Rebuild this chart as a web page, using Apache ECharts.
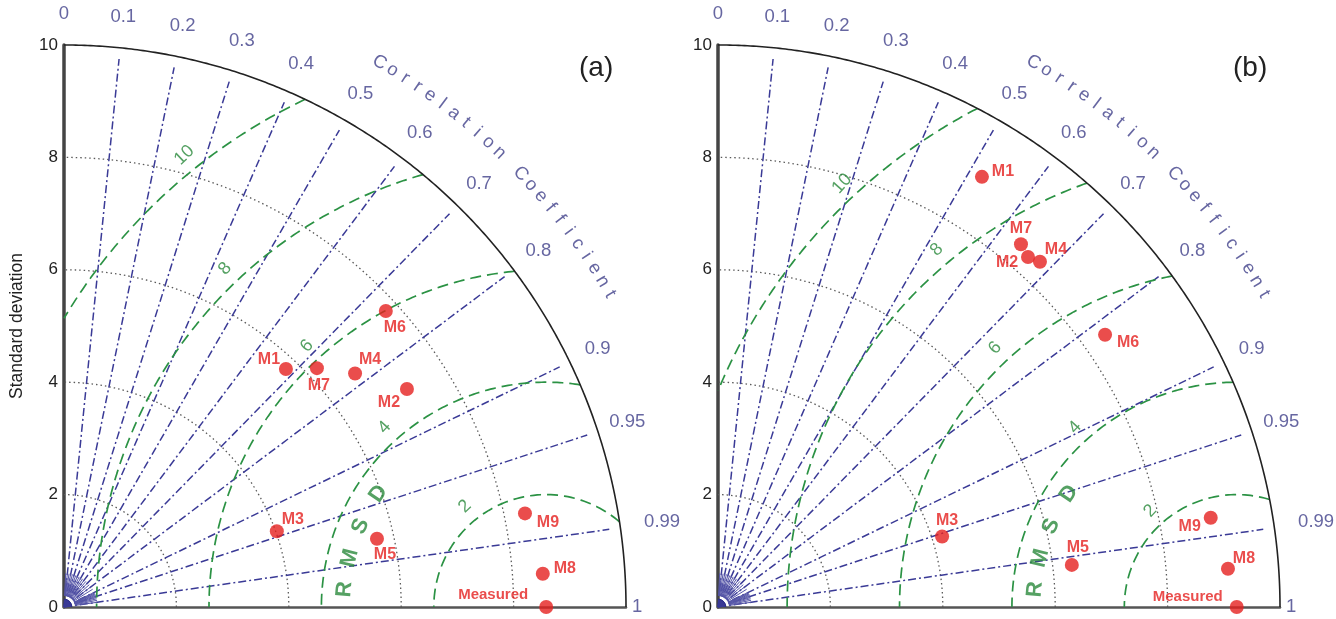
<!DOCTYPE html>
<html>
<head>
<meta charset="utf-8">
<script src="https://cdn.jsdelivr.net/npm/echarts@6/dist/echarts.min.js"></script>
<style>
html,body{margin:0;padding:0;background:#fff;}
#chart{width:1336px;height:619px;}
</style>
</head>
<body>
<div id="chart"></div>
<script>
// ---------------- data ----------------
const modelNames = ['M1','M2','M3','M4','M5','M6','M7','M8','M9','Measured'];
// panel (a)
const stdA  = [5.79, 7.23, 4.02, 6.64, 5.70, 7.78, 6.19, 8.54, 8.37, 8.58];
const corrA = [0.682, 0.844, 0.942, 0.780, 0.977, 0.736, 0.727, 0.9976, 0.980, 1.0];
// panel (b)
const stdB  = [8.98, 8.32, 4.18, 8.40, 6.34, 8.42, 8.41, 9.10, 8.91, 9.23];
const corrB = [0.523, 0.663, 0.954, 0.682, 0.993, 0.818, 0.641, 0.9972, 0.984, 1.0];

const stdTicks = [0, 2, 4, 6, 8, 10];
const stdArcLevels = [2, 4, 6, 8];
const rmsdLevels = [2, 4, 6, 8, 10];
const corrLineValues = [0.1,0.2,0.3,0.4,0.5,0.6,0.7,0.8,0.9,0.95,0.99];
const corrTickValues = [0,0.1,0.2,0.3,0.4,0.5,0.6,0.7,0.8,0.9,0.95,0.99,1];
const corrTickLabels = ['0','0.1','0.2','0.3','0.4','0.5','0.6','0.7','0.8','0.9','0.95','0.99','1'];
const corrTitle = 'Correlation Coefficient';
const rmsdTitle = 'RMSD';
const panelTitles = ['(a)','(b)'];
const yAxisName = 'Standard deviation';

// ---------------- layout / style ----------------
const MAXR = 10;
const gridLefts = [64, 718];
const GRID_TOP = 45, GRID_SIZE = 562;
// label offsets (px) for model labels, per panel
const labelOffA = [[-17,-9],[-18,14],[16,-12],[15,-14],[8,16],[9,17],[2,17],[22,-5],[23,9],[-53,-12]];
const labelOffB = [[21,-5],[-21,6],[5,-16],[16,-12],[6,-17],[23,8],[0,-16],[16,-10],[-21,9],[-49,-10]];
const rmsdLabelAngles = [[129,132,132.5,133.5,128.7],[132,132,133,130,133]];
const rmsdLetterAngles = [175,166,156.5,146];

const BLUE = '#3a3a96', BLUE_TXT = '#40408a', GREEN = '#2b9244', GREEN_TXT = '#2a8a3c', RED = '#e5201f';
const FONT = 'Liberation Sans, Arial, sans-serif';

function pol(r, c) { return [r * c, r * Math.sqrt(Math.max(0, 1 - c * c))]; }
function polDeg(r, deg) { const a = deg * Math.PI / 180; return [r * Math.cos(a), r * Math.sin(a)]; }
function arc(r, n) {
  const pts = [];
  for (let i = 0; i <= n; i++) pts.push(polDeg(r, 90 * i / n));
  return pts;
}
function rmsdArc(c, R) {
  let a0 = 0, a1 = Math.PI;
  if (c + R > MAXR) a0 = Math.acos((MAXR * MAXR - c * c - R * R) / (2 * c * R));
  if (R > c) a1 = Math.acos(-c / R);
  const pts = [], n = 150;
  for (let i = 0; i <= n; i++) {
    const a = a0 + (a1 - a0) * i / n;
    pts.push([c + R * Math.cos(a), R * Math.sin(a)]);
  }
  return pts;
}

const grids = [], xAxes = [], yAxes = [], series = [], titles = [];

function buildPanel(p, std, corr, offs) {
  grids.push({left: gridLefts[p], top: GRID_TOP, width: GRID_SIZE, height: GRID_SIZE, containLabel: false});
  xAxes.push({gridIndex: p, type: 'value', min: 0, max: MAXR, interval: 2,
    axisLine: {show: true, lineStyle: {color: '#555', width: 2.5}},
    axisTick: {show: false}, axisLabel: {show: false}, splitLine: {show: false}});
  yAxes.push({gridIndex: p, type: 'value', min: 0, max: MAXR, interval: 2,
    name: p === 0 ? yAxisName : '', nameLocation: 'middle', nameGap: 38,
    nameTextStyle: {fontSize: 17.5, color: '#222', fontFamily: FONT},
    axisLine: {show: true, lineStyle: {color: '#444', width: 3.5}},
    axisTick: {show: false}, splitLine: {show: false},
    axisLabel: {fontSize: 17, color: '#222', fontFamily: FONT, margin: 6,
      formatter: v => stdTicks.includes(v) ? String(v) : ''}});
  const base = {xAxisIndex: p, yAxisIndex: p, silent: true, animation: false};
  const measuredStd = std[std.length - 1];

  // std dotted arcs
  stdArcLevels.forEach(s => series.push(Object.assign({type: 'line', data: arc(s, 180), symbol: 'none', clip: false,
    lineStyle: {color: '#5a5a5a', width: 1.3, type: [1.5, 3]}, z: 2}, base)));
  // correlation rays
  corrLineValues.forEach(c => series.push(Object.assign({type: 'line', data: [[0, 0], pol(9.8, c)], symbol: 'none', clip: false,
    lineStyle: {color: BLUE, width: 1.5, type: [8, 3, 2, 3]}, z: 3}, base)));
  // dense fan near origin
  const fan = [];
  for (let k = 1; k < 20; k++) fan.push(k * 0.05);
  [0.91,0.92,0.93,0.94,0.96,0.97,0.98,0.99].forEach(v => fan.push(v));
  fan.forEach(c => series.push(Object.assign({type: 'line', data: [pol(0.2, c), pol(0.6, c)], symbol: 'none', clip: false,
    lineStyle: {color: '#5656a8', width: 1}, z: 3}, base)));
  series.push(Object.assign({type: 'line', data: arc(0.14, 30), symbol: 'none', clip: false,
    lineStyle: {color: '#2b2b8a', width: 1}, areaStyle: {color: '#2b2b8a', opacity: 1}, z: 3}, base));
  // RMSD dashed arcs
  rmsdLevels.forEach(R => series.push(Object.assign({type: 'line', data: rmsdArc(measuredStd, R), symbol: 'none', clip: false,
    lineStyle: {color: GREEN, width: 1.7, type: [11, 6]}, z: 4}, base)));
  // outer arc
  series.push(Object.assign({type: 'line', data: arc(MAXR, 300), symbol: 'none', clip: false,
    lineStyle: {color: '#222', width: 1.6}, z: 5}, base));

  const txt = (data, z) => Object.assign({type: 'scatter', symbolSize: 1, clip: false,
    itemStyle: {color: 'transparent'}, data: data, z: z || 6}, base);

  // correlation tick labels
  series.push(txt(corrTickValues.map((c, i) => {
    const r = c === 1 ? 10.2 : (c === 0.99 ? 10.75 : 10.55);
    return {value: pol(r, c), label: {show: true, position: 'inside', formatter: corrTickLabels[i],
      fontSize: 18.5, color: BLUE_TXT, fontFamily: FONT}};
  })));
  // "Correlation Coefficient" along arc
  const chars = corrTitle.split('');
  series.push(txt(chars.map((ch, i) => {
    const th = 59.9 - i * (30.1 / (chars.length - 1));
    return {value: polDeg(11.2, th), label: {show: ch !== ' ', position: 'inside', formatter: ch,
      rotate: th - 90, fontSize: 18.5, color: BLUE_TXT, fontFamily: FONT}};
  })));
  // RMSD level labels
  series.push(txt(rmsdLevels.map((R, i) => {
    const ang = rmsdLabelAngles[p][i];
    const q = polDeg(R + 0.3, ang);
    return {value: [measuredStd + q[0], q[1]], label: {show: true, position: 'inside', formatter: String(R),
      rotate: ang - 85, fontSize: 18, color: GREEN_TXT, fontFamily: FONT}};
  })));
  // "RMSD" letters
  series.push(txt(rmsdTitle.split('').map((ch, i) => {
    const ang = rmsdLetterAngles[i];
    const q = polDeg(3.6, ang);
    return {value: [measuredStd + q[0], q[1]], label: {show: true, position: 'inside', formatter: ch,
      rotate: ang - 90, fontSize: 22, fontWeight: 'bold', color: GREEN_TXT, fontFamily: FONT}};
  })));
  // model points
  series.push(Object.assign({type: 'scatter', symbol: 'circle', symbolSize: 14, clip: false,
    itemStyle: {color: RED}, z: 10,
    data: std.map((s, i) => ({name: modelNames[i], value: pol(s, corr[i]),
      label: {show: true, position: 'inside', offset: offs[i], formatter: modelNames[i],
        fontSize: i === 9 ? 15 : 16, fontWeight: 'bold', color: RED, fontFamily: FONT}}))}, base));

  titles.push({text: panelTitles[p], left: gridLefts[p] + 510, top: 49,
    textStyle: {fontSize: 28, fontWeight: 'normal', color: '#222', fontFamily: FONT}});
}

buildPanel(0, stdA, corrA, labelOffA);
buildPanel(1, stdB, corrB, labelOffB);

const chart = echarts.init(document.getElementById('chart'), null, {renderer: 'canvas'});
chart.setOption({
  backgroundColor: '#fff',
  animation: false,
  title: titles,
  grid: grids,
  xAxis: xAxes,
  yAxis: yAxes,
  series: series
});
</script>
</body>
</html>
